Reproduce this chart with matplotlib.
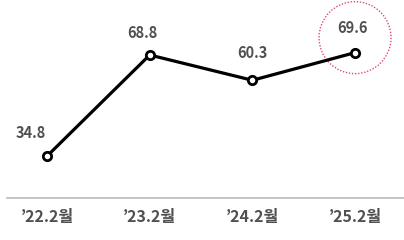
import matplotlib
matplotlib.use('Agg')
import matplotlib.pyplot as plt
from matplotlib.patches import Circle
from matplotlib.transforms import ScaledTranslation

plt.rcParams['font.family'] = ['Noto Sans CJK KR', 'DejaVu Sans']

# data
periods = ["’22.2월", "’23.2월", "’24.2월", "’25.2월"]
values = [34.8, 68.8, 60.3, 69.6]
label_dx = [-16, -7, 0, -3]   # label offsets in px
label_dy = [23, 22, 27, 25]

fig = plt.figure(figsize=(4.04, 2.4), dpi=100)
ax = fig.add_axes([7 / 404, 42 / 240, 397 / 404, 198 / 240])

x = list(range(len(values)))
ax.plot(x, values, color='black', lw=2.3, marker='o', ms=6,
        mfc='white', mec='black', mew=2, zorder=3)

for i, v in enumerate(values):
    ax.annotate(f'{v}', (i, v), xytext=(label_dx[i] * 0.72, label_dy[i] * 0.72),
                textcoords='offset points', ha='center', va='center',
                fontsize=10.5, color='#505050', fontweight='bold')

# dotted highlight circle around the last point
circ = Circle((0, 0.15), 0.36, fill=False, ec='#d9506a', ls=(0, (1, 1.2)), lw=1,
              transform=fig.dpi_scale_trans + ScaledTranslation(x[-1], values[-1], ax.transData))
ax.add_patch(circ)

ax.set_xlim(-0.39, 3.477)
ax.set_ylim(20.7, 87.3)
ax.set_xticks(x)
ax.set_xticklabels(periods, fontsize=11.5, color='#505050', fontweight='bold')
ax.tick_params(axis='x', length=0, pad=8)
ax.set_yticks([])
for s in ['top', 'left', 'right']:
    ax.spines[s].set_visible(False)
ax.spines['bottom'].set_color('#bbbbbb')
ax.spines['bottom'].set_linewidth(1.2)

fig.savefig('out.png', dpi=100)
